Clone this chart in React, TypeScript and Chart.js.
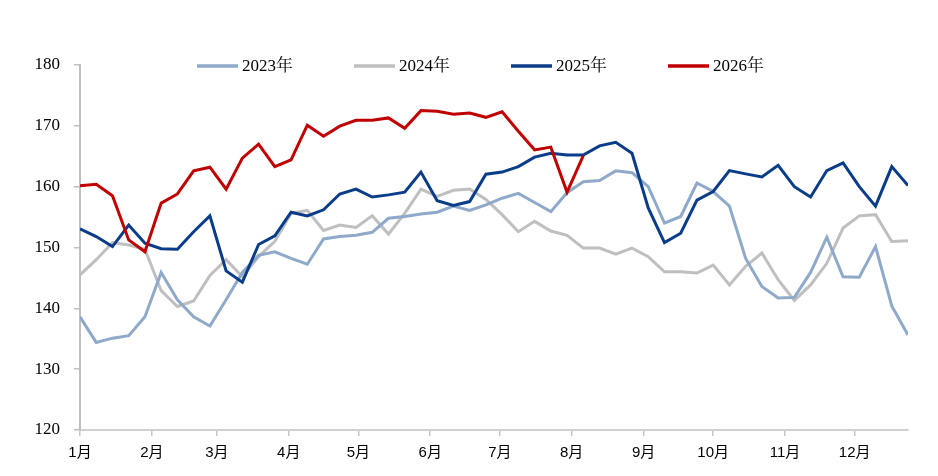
import React, { useEffect, useRef } from "react";
import { Chart, registerables } from "chart.js";

Chart.register(...registerables);

// x positions: day-of-year of each weekly observation
const weekDays = [
  0, 7, 14, 21, 28, 35, 42, 49, 56, 63, 70, 77, 84, 91, 98, 105, 112, 119, 126, 133,
  140, 147, 154, 161, 168, 175, 182, 189, 196, 203, 210, 217, 224, 231, 238, 245, 252,
  259, 266, 273, 280, 287, 294, 301, 308, 315, 322, 329, 336, 343, 350, 357,
];

const monthDays = [0, 31, 59, 90, 120, 151, 181, 212, 243, 273, 304, 334];
const monthLabels = ["1月", "2月", "3月", "4月", "5月", "6月", "7月", "8月", "9月", "10月", "11月", "12月"];

const seriesNames = ["2023年", "2024年", "2025年", "2026年"];
const seriesColors = ["#8EA9C9", "#BFBFBF", "#0A3D89", "#C00000"];

const d2023 = [
  138.6, 134.4, 135.1, 135.5, 138.6, 145.9, 141.4, 138.6, 137.1, 141.4,
  145.9, 148.7, 149.3, 148.2, 147.25, 151.4, 151.8, 152.0, 152.5, 154.8,
  155.1, 155.5, 155.8, 156.8, 156.1, 157.0, 158.1, 158.9, 157.4, 155.9,
  159.0, 160.8, 161.0, 162.6, 162.3, 160.0, 154.0, 155.1, 160.6, 159.2,
  156.8, 148.2, 143.6, 141.7, 141.8, 145.9, 151.7, 145.2, 145.1, 150.15,
  140.4, 135.6,
];

const d2024 = [
  145.5, 148.0, 150.8, 150.4, 149.7, 142.9, 140.3, 141.2, 145.4, 148.0,
  145.2, 148.5, 151.0, 155.6, 156.1, 152.8, 153.7, 153.3, 155.2, 152.2,
  155.6, 159.6, 158.4, 159.4, 159.6, 157.9, 155.4, 152.6, 154.3, 152.7,
  152.0, 149.9, 149.9, 148.9, 149.9, 148.5, 146.0, 146.0, 145.8, 147.1,
  143.85, 146.9, 149.1, 144.7, 141.3, 143.85, 147.4, 153.2, 155.2, 155.4,
  151.0, 151.1,
];

const d2025 = [
  153.06, 151.8, 150.15, 153.7, 150.7, 149.8, 149.7, 152.6, 155.2, 146.15,
  144.3, 150.5, 151.9, 155.8, 155.2, 156.2, 158.8, 159.6, 158.3, 158.65,
  159.1, 162.4, 157.7, 156.9, 157.55, 162.05, 162.4, 163.3, 164.85, 165.5,
  165.2, 165.2, 166.7, 167.3, 165.5, 156.5, 150.8, 152.35, 157.8, 159.2,
  162.65, 162.1, 161.6, 163.5, 160.0, 158.3, 162.65, 163.9, 160.0, 156.8,
  163.3, 160.2,
];

const d2026 = [
  160.13, 160.4, 158.5, 151.25, 149.3, 157.3, 158.8, 162.6, 163.2, 159.6,
  164.7, 167.0, 163.3, 164.4, 170.1, 168.3, 169.95, 170.9, 170.9, 171.3,
  169.6, 172.5, 172.4, 171.9, 172.1, 171.4, 172.3, 169.1, 166.05, 166.5,
  159.1, 165.1,
];

const yTicks = [120, 130, 140, 150, 160, 170, 180];

const allSeries = [d2023, d2024, d2025, d2026];
const drawOrder = [2, 3, 1, 0];

const legendPlugin = {
  id: "customLegend",
  afterDraw(chart: any) {
    const ctx = chart.ctx;
    const startX = 197;
    const step = 157;
    const y = 66;
    ctx.save();
    seriesNames.forEach((name, i) => {
      const x = startX + i * step;
      ctx.strokeStyle = seriesColors[i];
      ctx.lineWidth = 3.5;
      ctx.beginPath();
      ctx.moveTo(x, y);
      ctx.lineTo(x + 41, y);
      ctx.stroke();
      ctx.fillStyle = "#000";
      ctx.font = '17px "Liberation Serif", "Noto Serif CJK SC", "Noto Sans CJK SC", serif';
      ctx.textAlign = "left";
      ctx.textBaseline = "middle";
      ctx.fillText(name, x + 45, y + 1);
    });
    ctx.restore();
  },
};

export default function App() {
  const canvasRef = useRef<HTMLCanvasElement | null>(null);

  useEffect(() => {
    document.body.style.margin = "0";
    const canvas = canvasRef.current;
    if (!canvas) return;
    const chart = new Chart(canvas, {
      type: "line",
      data: {
        datasets: allSeries.map((s, i) => ({
          label: seriesNames[i],
          data: s.map((v, k) => ({ x: weekDays[k], y: v })),
          borderColor: seriesColors[i],
          backgroundColor: seriesColors[i],
          borderWidth: 3,
          pointRadius: 0,
          tension: 0,
          fill: false,
          order: drawOrder[i],
        })),
      },
      options: {
        animation: false,
        responsive: false,
        maintainAspectRatio: false,
        layout: { padding: { left: 0, right: 30, top: 65, bottom: 0 } },
        plugins: {
          legend: { display: false },
          tooltip: { enabled: false },
        },
        scales: {
          x: {
            type: "linear",
            min: 0,
            max: 357,
            afterBuildTicks: (scale: any) => {
              scale.ticks = monthDays.map((v) => ({ value: v }));
            },
            afterFit: (scale: any) => {
              scale.height = 46;
            },
            ticks: {
              autoSkip: false,
              maxRotation: 0,
              minRotation: 0,
              padding: 8,
              color: "#000",
              font: { family: '"Liberation Sans Narrow", "Liberation Sans", "Noto Sans CJK SC", sans-serif', size: 15 },
              callback: (v: any) => {
                const idx = monthDays.indexOf(Number(v));
                return idx >= 0 ? monthLabels[idx] : "";
              },
            },
            grid: {
              drawOnChartArea: false,
              drawTicks: true,
              tickLength: 6,
              color: "#C8C8C8",
              lineWidth: 1.5,
            },
            border: { color: "#D0D0D0", width: 2 },
          },
          y: {
            min: 120,
            max: 180,
            afterBuildTicks: (scale: any) => {
              scale.ticks = yTicks.map((v) => ({ value: v }));
            },
            afterFit: (scale: any) => {
              scale.width = 80;
            },
            ticks: {
              padding: 14,
              color: "#000",
              font: { family: '"Liberation Serif", "Times New Roman", serif', size: 17 },
            },
            grid: {
              drawOnChartArea: false,
              drawTicks: true,
              tickLength: 6,
              color: "#BFBFBF",
              lineWidth: 1.5,
            },
            border: { color: "#BFBFBF", width: 2 },
          },
        },
      },
      plugins: [legendPlugin],
    });
    return () => chart.destroy();
  }, []);

  return (
    <div style={{ width: 938, height: 476, background: "#fff" }}>
      <canvas ref={canvasRef} width={938} height={476} style={{ display: "block" }} />
    </div>
  );
}
